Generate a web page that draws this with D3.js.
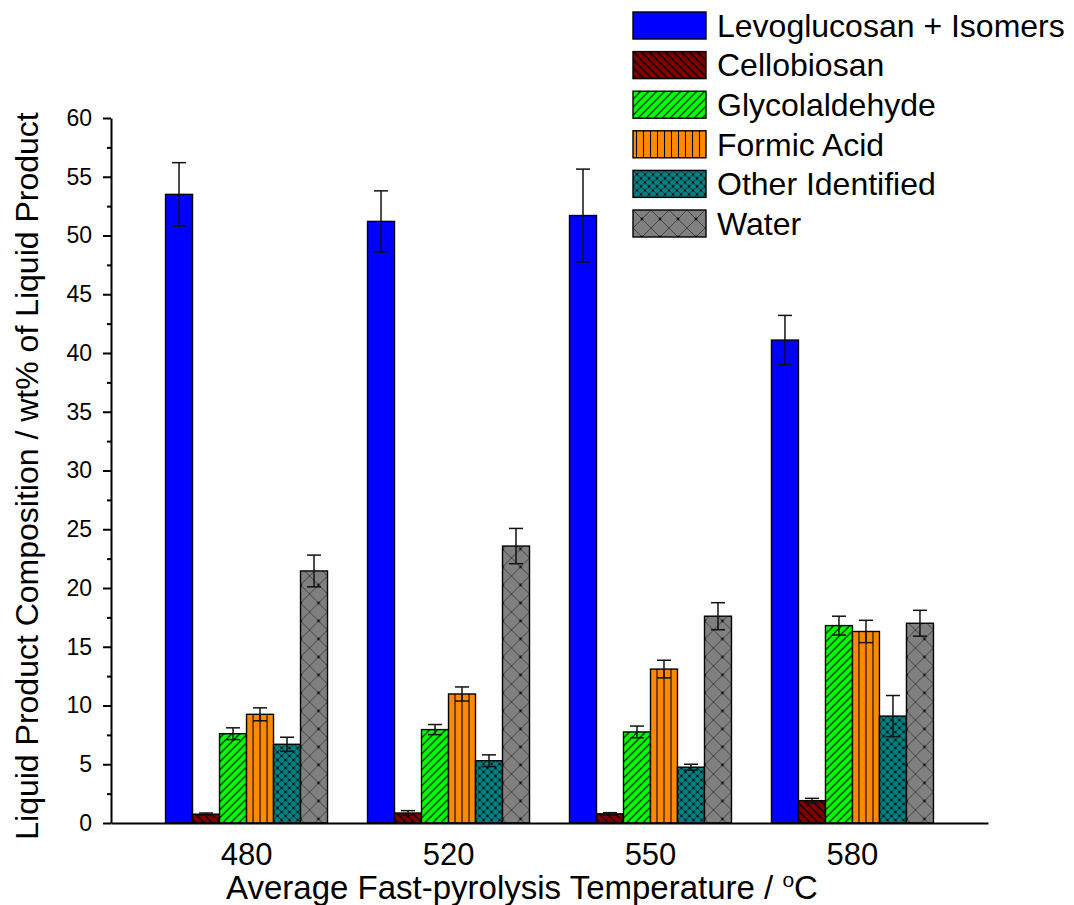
<!DOCTYPE html>
<html>
<head>
<meta charset="utf-8">
<script src="https://cdn.jsdelivr.net/npm/d3@7"></script>
<style>
body { margin: 0; background: #fff; }
text { font-family: "Liberation Sans", Arial, sans-serif; fill: #000; }
</style>
</head>
<body>
<svg id="chart" width="1074" height="905"></svg>
<script>
const temperatures = ["480", "520", "550", "580"];
const products = ["Levoglucosan + Isomers", "Cellobiosan", "Glycolaldehyde", "Formic Acid", "Other Identified", "Water"];

// wt% values and error bars, one array per product
const levoglucosan = [53.5, 51.2, 51.7, 41.1];
const levoglucosanErr = [2.7, 2.6, 3.95, 2.1];
const cellobiosan = [0.75, 0.85, 0.78, 1.9];
const cellobiosanErr = [0.1, 0.2, 0.1, 0.2];
const glycolaldehyde = [7.6, 7.95, 7.75, 16.8];
const glycolaldehydeErr = [0.5, 0.43, 0.5, 0.8];
const formicAcid = [9.25, 10.98, 13.1, 16.3];
const formicAcidErr = [0.55, 0.6, 0.75, 0.95];
const otherIdentified = [6.7, 5.3, 4.75, 9.1];
const otherIdentifiedErr = [0.6, 0.5, 0.25, 1.75];
const water = [21.45, 23.57, 17.6, 17.0];
const waterErr = [1.35, 1.5, 1.15, 1.1];

const yTicks = [0, 5, 10, 15, 20, 25, 30, 35, 40, 45, 50, 55, 60];
const yMinorTicks = [2.5, 7.5, 12.5, 17.5, 22.5, 27.5, 32.5, 37.5, 42.5, 47.5, 52.5, 57.5];

const colors = ["#0000ff", "#800000", "#00ff00", "#ff8a00", "#008080", "#808080"];
const patternIds = ["pLevo", "pCello", "pGlyco", "pFormic", "pOther", "pWater"];

const seriesValues = [levoglucosan, cellobiosan, glycolaldehyde, formicAcid, otherIdentified, water];
const seriesErrors = [levoglucosanErr, cellobiosanErr, glycolaldehydeErr, formicAcidErr, otherIdentifiedErr, waterErr];

const svg = d3.select("#chart");
const defs = svg.append("defs");

function makePattern(id, size, color) {
    const p = defs.append("pattern")
        .attr("id", id)
        .attr("patternUnits", "userSpaceOnUse")
        .attr("width", size)
        .attr("height", size);
    p.append("rect").attr("width", size).attr("height", size).attr("fill", color);
    return p;
}

makePattern("pLevo", 8, colors[0]);

makePattern("pCello", 8, colors[1])
    .append("path")
    .attr("d", "M0,0L8,8M-2,6L2,10M6,-2L10,2")
    .attr("stroke", "#000").attr("stroke-width", 1.3);

makePattern("pGlyco", 8, colors[2])
    .append("path")
    .attr("d", "M0,8L8,0M-2,2L2,-2M6,10L10,6")
    .attr("stroke", "#000").attr("stroke-width", 1.2);

makePattern("pFormic", 7, colors[3])
    .append("path")
    .attr("d", "M3.5,0V7")
    .attr("stroke", "#000").attr("stroke-width", 1.1);

const po = makePattern("pOther", 8, colors[4]);
po.append("path")
    .attr("d", "M0,0L8,8M0,8L8,0")
    .attr("stroke", "#003333").attr("stroke-width", 0.8);
po.append("circle").attr("cx", 4).attr("cy", 4).attr("r", 1.2).attr("fill", "#000");
po.selectAll(".c").data([[0, 0], [8, 0], [0, 8], [8, 8]]).join("circle")
    .attr("cx", d => d[0]).attr("cy", d => d[1]).attr("r", 1.2).attr("fill", "#000");

const pw = makePattern("pWater", 18, colors[5]);
pw.append("path")
    .attr("d", "M0,0L18,18M0,18L18,0")
    .attr("stroke", "#333").attr("stroke-width", 0.8);
pw.append("circle").attr("cx", 9).attr("cy", 9).attr("r", 1.4).attr("fill", "#111");

const plotLeft = 111, plotRight = 988, plotTop = 118, plotBottom = 823;

const x0 = d3.scaleBand()
    .domain(temperatures)
    .range([plotLeft, plotRight])
    .paddingInner(0.198)
    .paddingOuter(0.27);

const x1 = d3.scaleBand()
    .domain(products)
    .range([0, x0.bandwidth()])
    .padding(0);

const y = d3.scaleLinear().domain([0, 60]).range([plotBottom, plotTop]);

// bars
const groups = svg.append("g").selectAll("g")
    .data(temperatures)
    .join("g")
    .attr("transform", d => `translate(${x0(d)},0)`);

groups.selectAll("rect")
    .data((t, ti) => products.map((p, pi) => ({ p, pi, v: seriesValues[pi][ti], e: seriesErrors[pi][ti] })))
    .join("rect")
    .attr("x", d => x1(d.p))
    .attr("y", d => y(d.v))
    .attr("width", x1.bandwidth())
    .attr("height", d => y(0) - y(d.v))
    .attr("fill", d => `url(#${patternIds[d.pi]})`)
    .attr("stroke", "#000")
    .attr("stroke-width", 1.4);

// error bars
const err = groups.selectAll("g.err")
    .data((t, ti) => products.map((p, pi) => ({ p, v: seriesValues[pi][ti], e: seriesErrors[pi][ti] })))
    .join("g")
    .attr("class", "err")
    .attr("stroke", "#111")
    .attr("stroke-width", 1.5);

const capW = 7;
err.append("line")
    .attr("x1", d => x1(d.p) + x1.bandwidth() / 2)
    .attr("x2", d => x1(d.p) + x1.bandwidth() / 2)
    .attr("y1", d => y(d.v - d.e))
    .attr("y2", d => y(d.v + d.e));
err.append("line")
    .attr("x1", d => x1(d.p) + x1.bandwidth() / 2 - capW)
    .attr("x2", d => x1(d.p) + x1.bandwidth() / 2 + capW)
    .attr("y1", d => y(d.v + d.e))
    .attr("y2", d => y(d.v + d.e));
err.append("line")
    .attr("x1", d => x1(d.p) + x1.bandwidth() / 2 - capW)
    .attr("x2", d => x1(d.p) + x1.bandwidth() / 2 + capW)
    .attr("y1", d => y(d.v - d.e))
    .attr("y2", d => y(d.v - d.e));

// axes
const yAxis = svg.append("g")
    .attr("transform", `translate(${plotLeft},0)`)
    .call(d3.axisLeft(y).tickValues(yTicks).tickSize(8).tickSizeOuter(0).tickPadding(11));
yAxis.selectAll("text").style("font-size", "23px");

svg.append("g")
    .attr("transform", `translate(${plotLeft},0)`)
    .call(d3.axisLeft(y).tickValues(yMinorTicks).tickSize(4).tickFormat(""))
    .call(g => g.select(".domain").remove());

const xAxis = svg.append("g")
    .attr("transform", `translate(0,${plotBottom})`)
    .call(d3.axisBottom(x0).tickSize(0).tickPadding(20));
xAxis.selectAll("text").style("font-size", "31px");

svg.selectAll(".domain, .tick line").attr("stroke", "#000").attr("stroke-width", 2);
svg.selectAll(".tick text").attr("fill", "#000");

// axis titles
svg.append("text")
    .attr("transform", "translate(38,476) rotate(-90)")
    .attr("text-anchor", "middle")
    .style("font-size", "32px")
    .text("Liquid Product Composition / wt% of Liquid Product");

const xt = svg.append("text")
    .attr("x", 522)
    .attr("y", 899)
    .attr("text-anchor", "middle")
    .style("font-size", "33px");
xt.append("tspan").text("Average Fast-pyrolysis Temperature / ");
xt.append("tspan").attr("dy", -12).style("font-size", "21px").text("o");
xt.append("tspan").attr("dy", 12).text("C");

// legend
const legend = svg.append("g").selectAll("g")
    .data(products)
    .join("g")
    .attr("transform", (d, i) => `translate(633,${12 + i * 39.6})`);

legend.append("rect")
    .attr("width", 73)
    .attr("height", 27)
    .attr("fill", (d, i) => `url(#${patternIds[i]})`)
    .attr("stroke", "#000")
    .attr("stroke-width", 1.4);

legend.append("text")
    .attr("x", 84)
    .attr("y", 13.5)
    .attr("dy", "0.35em")
    .style("font-size", "32px")
    .text(d => d);
</script>
</body>
</html>
